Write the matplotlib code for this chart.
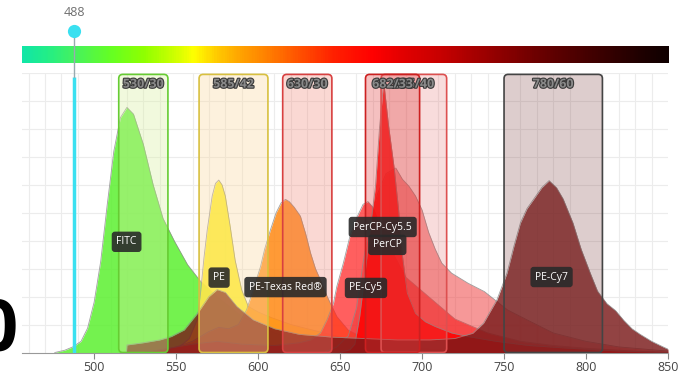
import numpy as np
import matplotlib.pyplot as plt
from matplotlib.colors import LinearSegmentedColormap
from matplotlib.patches import FancyBboxPatch
import matplotlib.patheffects as pe

plt.rcParams['font.family'] = ['Open Sans', 'DejaVu Sans']

# emission spectra (wavelength nm, relative intensity)
fitc_nm = [476, 482, 487, 492, 496, 500, 504, 508, 512, 516, 520, 524, 530, 536, 542, 549, 557, 565, 575, 590, 610, 630, 655, 680]
fitc_val = [0, 0.8, 2, 4, 8.7, 18, 32.6, 53, 72, 84, 87.7, 85.3, 74.5, 60, 48, 39.8, 31.4, 25.4, 20, 13, 7, 3.5, 1.2, 0]

pe_nm = [535, 545, 552, 558, 563, 565, 567, 569, 572, 574, 576, 578, 580, 583, 586, 590, 594, 600, 608, 620, 640, 660, 680, 700, 720]
pe_val = [0, 0.8, 2, 5, 12, 22, 34, 44, 56, 60.5, 61.7, 60, 56, 45, 33, 22.4, 16.5, 14.5, 12.5, 10, 7, 4, 2, 0.8, 0]

petr_nm = [530, 545, 560, 570, 576, 582, 588, 593, 597, 601.5, 604, 607.6, 611, 614, 616.7, 619, 622, 625.8, 629, 632, 635, 638, 641, 644, 648, 655, 665, 680, 700, 720, 740]
petr_val = [0, 1, 4, 7.5, 9, 8.5, 10, 15.3, 22.4, 30.8, 37, 44, 50, 53.5, 54.8, 54, 52, 48.8, 42.5, 35.6, 30, 26, 21.5, 17.7, 12.9, 8, 5, 3, 1.5, 0.6, 0]

pecy5_nm = [530, 545, 560, 575, 590, 610, 625, 632, 638, 642, 646, 648, 652, 656, 660, 664, 667, 670, 675, 680, 690, 700, 710, 720, 740, 760, 780, 800, 830, 850]
pecy5_val = [0, 1.5, 3, 4, 3, 2.5, 3.5, 4.5, 7, 11.7, 17.7, 23.6, 32, 41.6, 48, 53, 54, 52, 45, 38, 27, 22, 17, 12, 7, 4, 2.5, 1.5, 0.5, 0]

percpcy55_nm = [640, 648, 655, 660, 664, 668, 673, 678, 684, 688, 692, 696, 700, 704, 708, 712, 718, 728, 738, 752, 764, 780, 800, 820, 850]
percpcy55_val = [0, 2, 6, 16, 32, 46, 57, 64, 66, 62, 59.5, 56, 51, 43, 37, 32, 28.4, 24.8, 21.8, 15.3, 11.7, 7, 4, 2, 0.5]

percp_nm = [650, 656, 659, 662, 665.5, 668.5, 671.6, 674, 676.6, 679.6, 683, 685.7, 687.8, 691, 696, 702, 708, 718, 728, 745, 765, 790, 820, 850]
percp_val = [0, 1, 3, 13, 29.6, 45, 59.5, 80, 97, 81, 66, 51, 35.6, 21.3, 14, 11, 9.3, 7, 5.7, 4, 2.5, 1.5, 0.5, 0]

pecy7_nm = [519.7, 520, 530, 540, 547, 555, 563, 570, 575, 580, 587, 597, 610, 625, 645, 665, 685, 705, 720, 731, 737.5, 745.7, 751.8, 756, 760, 764, 768, 773, 777.5, 782, 786, 792, 797, 802.6, 807, 812.7, 818, 823, 828, 833, 840, 847, 850]
pecy7_val = [0, 2.7, 3.5, 4.5, 5.7, 8.1, 14, 20, 22.5, 21.5, 16.5, 11.7, 8.5, 6.5, 5.5, 5, 4.5, 4.5, 5, 6.9, 10.5, 18.9, 28.4, 38, 46.4, 51.5, 54.8, 59, 61.5, 59, 55, 46.4, 37, 28.4, 22, 17.5, 15, 11.5, 8.5, 6.5, 4, 2, 1.2]

# label positions (nm, height)
fluor_names = ['FITC', 'PE', 'PE-Texas Red®', 'PE-Cy5', 'PerCP-Cy5.5', 'PerCP', 'PE-Cy7']
label_nm = [519.8, 576.2, 616.7, 665.8, 676, 678.8, 779]
label_y = [39.6, 26.8, 23.4, 23.1, 44.9, 38.5, 27]

# filters
filter_center = [530, 585, 630, 695, 682, 780]
filter_width = [30, 42, 30, 40, 33, 60]
filter_face = ['#d8f0a0', '#fbd9a0', '#f08070', '#e06060', '#e03030', '#7a3a3a']
filter_alpha = [0.35, 0.35, 0.3, 0.22, 0.3, 0.25]
filter_edge = ['#66cc33', '#d8c040', '#d84040', '#dd5050', '#cc2020', '#444444']

laser_nm = 488

# colour bar stops
bar_nm = [456, 470, 488, 510, 530, 550, 560, 575, 590, 605, 625, 646, 670, 690, 711, 731, 752, 772, 792, 812, 833, 850]
bar_col = ['#12e6a6', '#22ee88', '#48f25c', '#66ff22', '#90ff00', '#d4ff00', '#ffff00', '#ffc800',
           '#ffa000', '#ff8000', '#ff5000', '#ff2000', '#ff0000', '#e00000', '#c80000', '#a80000',
           '#880000', '#6a0000', '#500000', '#380000', '#200000', '#100000']

fig = plt.figure(figsize=(6.87, 3.76), dpi=100)

xmin, xmax = 456, 850

# spectrum colour bar
cax = fig.add_axes([22 / 687, 1 - 63 / 376, 647 / 687, 17 / 376])
pos = [(v - xmin) / (xmax - xmin) for v in bar_nm]
cmap = LinearSegmentedColormap.from_list('spec', list(zip(pos, bar_col)))
cax.imshow(np.linspace(0, 1, 600)[None, :], aspect='auto', cmap=cmap, extent=[xmin, xmax, 0, 1])
cax.set_axis_off()

ax = fig.add_axes([22 / 687, 1 - 352.5 / 376, 646 / 687, 279.5 / 376])
ax.set_facecolor('none')
ax.set_xlim(xmin, xmax)
ax.set_ylim(0, 100)

ax.set_xticks(np.arange(460, 851, 10), minor=True)
ax.set_yticks(np.arange(10, 101, 10))
ax.grid(which='minor', axis='x', color='#ececec', lw=0.8)
ax.grid(which='major', axis='y', color='#ececec', lw=0.8)
ax.set_axisbelow(True)
ax.set_xticks(np.arange(500, 851, 50))
ax.tick_params(axis='x', which='minor', length=0)
ax.tick_params(axis='x', which='major', length=4, color='#888888', labelcolor='#444444', labelsize=9, pad=2)
ax.tick_params(axis='y', left=False, labelleft=False)
for s in ['left', 'right', 'top']:
    ax.spines[s].set_visible(False)
ax.spines['bottom'].set_color('#999999')

spectra = [
    (fitc_nm, fitc_val, '#5cf030', 0.85),
    (pe_nm, pe_val, '#fff01a', 0.88),
    (petr_nm, petr_val, '#ff8c1a', 0.88),
    (pecy5_nm, pecy5_val, '#ff2a2a', 0.75),
    (percpcy55_nm, percpcy55_val, '#ee3333', 0.5),
    (percp_nm, percp_val, '#ff0000', 0.85),
    (pecy7_nm, pecy7_val, '#7a1a1a', 0.82),
]
for i, (x, y, c, a) in enumerate(spectra):
    ax.fill_between(x, y, 0, color=c, alpha=a, lw=0, zorder=2 + i * 0.1)
    ax.plot(x, y, color='#888888', lw=0.6, alpha=0.8, zorder=2.05 + i * 0.1)

# filter boxes
for c, w, fc, fa, ec in zip(filter_center, filter_width, filter_face, filter_alpha, filter_edge):
    box = FancyBboxPatch((c - w / 2, 0), w, 99.5, boxstyle='round,pad=0,rounding_size=2.5',
                         mutation_aspect=0.59, facecolor=fc, alpha=fa, edgecolor='none', zorder=3)
    ax.add_patch(box)
    edge = FancyBboxPatch((c - w / 2, 0), w, 99.5, boxstyle='round,pad=0,rounding_size=2.5',
                          mutation_aspect=0.59, facecolor='none', edgecolor=ec, lw=1.2, zorder=3.1)
    ax.add_patch(edge)
    ax.text(c, 96, '%d/%d' % (c, w), ha='center', va='center', fontsize=9, fontweight='bold',
            color='#8a8a8a', zorder=3.2,
            path_effects=[pe.withStroke(linewidth=1.6, foreground='#3a3a3a')])

# fluor labels
for name, x, y in zip(fluor_names, label_nm, label_y):
    ax.text(x, y, name, ha='center', va='center', fontsize=7.5, color='white', zorder=5,
            bbox=dict(boxstyle='round,pad=0.45,rounding_size=0.3', fc='#2a2a2a', ec='none', alpha=0.9))

# laser line
ax.plot([laser_nm, laser_nm], [0, 98.5], color='#3ae0f0', lw=2.5, zorder=4, solid_capstyle='butt')
ax.plot([laser_nm, laser_nm], [98.5, 115], color='#9aaab0', lw=1, zorder=4, clip_on=False)
ax.plot(laser_nm, 115.2, 'o', ms=9.5, color='#3ae0f0', mec='none', zorder=6, clip_on=False)
ax.text(laser_nm, 121.6, str(laser_nm), ha='center', va='center', fontsize=9, color='#707070',
        clip_on=False)

# cropped glyph at the left edge
fig.text(-0.004, 0.118, '0', fontsize=52, color='black', fontweight='bold', ha='center', va='center')

fig.savefig('out.png', dpi=100)
